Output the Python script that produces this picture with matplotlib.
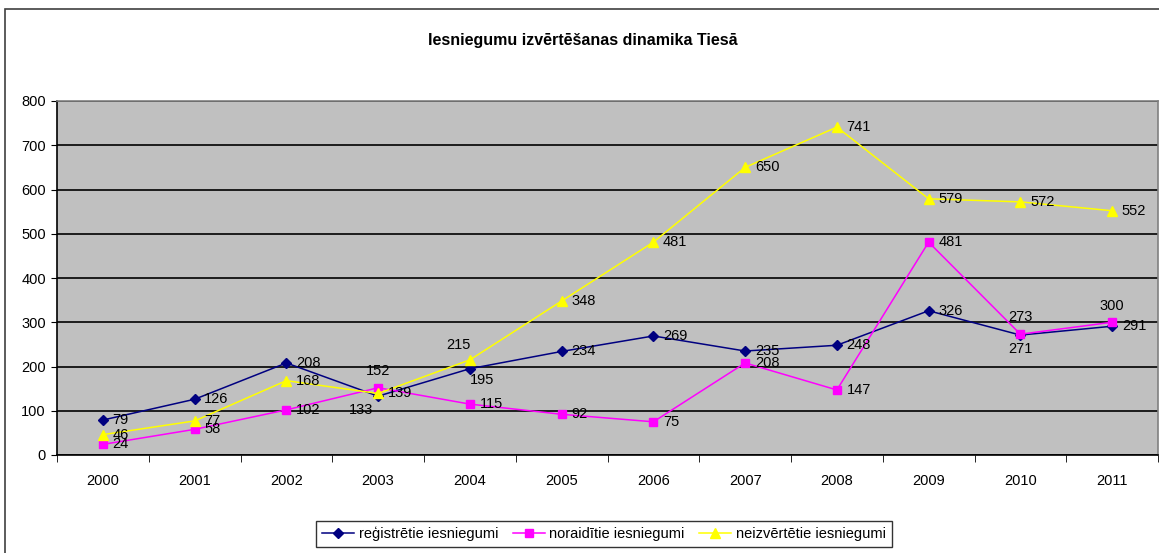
import matplotlib
matplotlib.use('Agg')
import matplotlib.pyplot as plt
import numpy as np
from matplotlib import rcParams
from matplotlib.patches import Rectangle

rcParams['font.family'] = ['Liberation Sans Narrow', 'Liberation Sans', 'DejaVu Sans']
rcParams['font.size'] = 10.5

years = ['2000', '2001', '2002', '2003', '2004', '2005',
         '2006', '2007', '2008', '2009', '2010', '2011']
registreti = [79, 126, 208, 133, 195, 234, 269, 235, 248, 326, 271, 291]
noraiditi = [24, 58, 102, 152, 115, 92, 75, 208, 147, 481, 273, 300]
neizverteti = [46, 77, 168, 139, 215, 348, 481, 650, 741, 579, 572, 552]

series_names = ['reģistrētie iesniegumi', 'noraidītie iesniegumi', 'neizvērtētie iesniegumi']

# label placement: 'r' right, 'a' above, 'b' below, 'al' above-left, 'bl' below-left, 'br' below-right
placement = {
    0: {3: 'bl', 4: 'br', 10: 'b'},
    1: {3: 'a', 10: 'a', 11: 'a'},
    2: {4: 'al'},
}

fig = plt.figure(figsize=(11.59, 5.53), dpi=100)
ax = fig.add_axes([57 / 1159, 1 - 455 / 553, 1101 / 1159, 354 / 553])
ax.set_facecolor('#C0C0C0')

x = np.arange(len(years))
styles = [('#000080', 'D', 5.5), ('#FF00FF', 's', 5.5), ('#FFFF00', '^', 6.5)]
data = [registreti, noraiditi, neizverteti]

for i, (vals, (col, mk, ms)) in enumerate(zip(data, styles)):
    ax.plot(x, vals, color=col, marker=mk, markersize=ms, linewidth=1.1,
            markeredgecolor=col, label=series_names[i], zorder=3)
    for j, v in enumerate(vals):
        p = placement[i].get(j, 'r')
        if p == 'r':
            off, ha, va = (7, 0), 'left', 'center'
        elif p == 'a':
            off, ha, va = (0, 7), 'center', 'bottom'
        elif p == 'b':
            off, ha, va = (0, -5), 'center', 'top'
        elif p == 'al':
            off, ha, va = (-8, 6), 'center', 'bottom'
        elif p == 'bl':
            off, ha, va = (-12, -5), 'center', 'top'
        else:
            off, ha, va = (0, -3), 'left', 'top'
        ax.annotate(str(v), (j, v), xytext=off, textcoords='offset points',
                    ha=ha, va=va, fontsize=10.5, color='black', zorder=4)

ax.set_xlim(-0.5, len(years) - 0.5)
ax.set_ylim(0, 800)
ax.set_yticks(np.arange(0, 801, 100))
ax.yaxis.grid(True, color='black', linewidth=1.2)
ax.set_axisbelow(True)

ax.set_xticks(x)
ax.set_xticklabels(years)
ax.set_xticks(np.arange(-0.5, len(years), 1), minor=True)
ax.tick_params(axis='x', which='major', length=0, pad=14)
ax.tick_params(axis='x', which='minor', length=5, direction='out', color='black')
ax.tick_params(axis='y', length=4, direction='out', pad=4)

for s in ['top', 'right']:
    ax.spines[s].set_color('#808080')
    ax.spines[s].set_linewidth(1.2)
for s in ['left', 'bottom']:
    ax.spines[s].set_color('black')
    ax.spines[s].set_linewidth(1.2)

fig.text(583 / 1159, 1 - 40 / 553, 'Iesniegumu izvērtēšanas dinamika Tiesā',
         ha='center', va='center', fontsize=11.5, fontweight='bold')

leg = fig.legend(loc='center', bbox_to_anchor=(604 / 1159, 1 - 534 / 553), ncol=3,
                 frameon=True, fancybox=False, fontsize=10.5, handlelength=2.2,
                 columnspacing=1.0, handletextpad=0.3, borderpad=0.4)
leg.get_frame().set_edgecolor('black')
leg.get_frame().set_linewidth(1.0)

fig.patches.append(Rectangle((5 / 1159, -0.1), 1.2, 1.1 - 9 / 553,
                             transform=fig.transFigure, fill=False,
                             edgecolor='#404040', linewidth=1.2, zorder=0))

fig.savefig('out.png', dpi=100)
